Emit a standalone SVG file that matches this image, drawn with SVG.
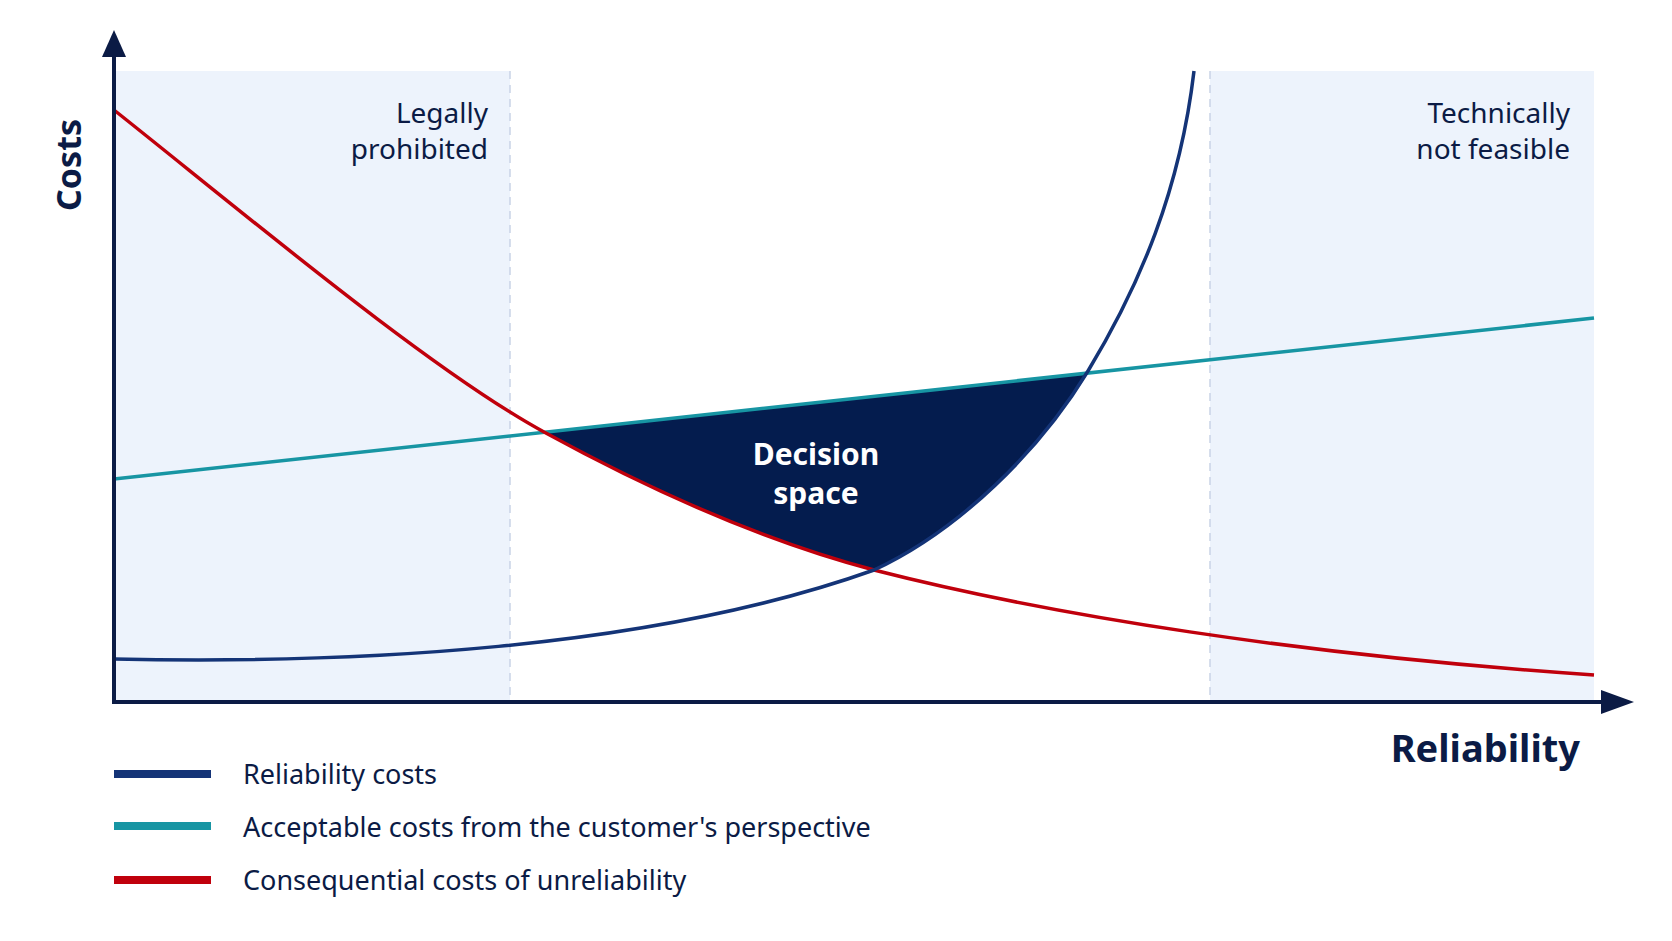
<svg xmlns="http://www.w3.org/2000/svg" width="1672" height="941" viewBox="0 0 1672 941">
<style>
text{font-family:"Noto Sans","Open Sans",sans-serif;fill:#0b1b45}
.lbl{font-size:28px}
.leg{font-size:27px}
.zone{fill:#edf3fc}
.dash{stroke:#c9d3e6;stroke-width:1.5;stroke-dasharray:8 6}
.c{fill:none;stroke-width:3.5}
</style>
<rect width="1672" height="941" fill="#fff"/>
<g id="zones">
<rect class="zone" x="114" y="71" width="396" height="631"/>
<rect class="zone" x="1210" y="71" width="384" height="631"/>
<line class="dash" x1="510" y1="71" x2="510" y2="702"/>
<line class="dash" x1="1210" y1="71" x2="1210" y2="702"/>
</g>
<g id="decision-space">
<path d="M544,432 L1088,373 C1040,450 960,530 874,570 C760,540 650,490 544,432 Z" fill="#041c4e"/>
<text x="816" y="465" text-anchor="middle" font-size="30" font-weight="bold" style="fill:#fff">Decision</text>
<text x="816" y="504" text-anchor="middle" font-size="30" font-weight="bold" style="fill:#fff">space</text>
</g>
<g id="connectors">
<line x1="114" y1="479" x2="1594" y2="318" class="c" stroke="#1795a3"/>
<path class="c" stroke="#c0000c" d="M114,110 C240,210 430,370 544,432 C650,490 760,540 874,570 C1050,615 1300,655 1594,675"/>
<path class="c" stroke="#143477" d="M114,659 C350,664 650,650 874,570 C960,530 1040,450 1088,371 C1140,285 1180,190 1194,71"/>
<line x1="114" y1="702" x2="114" y2="50" stroke="#0b1b45" stroke-width="4"/>
<polygon points="114,30 102,57 126,57" fill="#0b1b45"/>
<line x1="112" y1="702" x2="1605" y2="702" stroke="#0b1b45" stroke-width="4"/>
<polygon points="1634,702 1601,690 1601,714" fill="#0b1b45"/>
</g>
<g id="labels">
<text class="lbl" x="488" y="123" text-anchor="end">Legally</text>
<text class="lbl" x="488" y="159" text-anchor="end">prohibited</text>
<text class="lbl" x="1570" y="123" text-anchor="end">Technically</text>
<text class="lbl" x="1570" y="159" text-anchor="end">not feasible</text>
<text x="0" y="0" font-size="34" font-weight="bold" text-anchor="middle" transform="translate(81,165) rotate(-90)">Costs</text>
<text x="1580" y="762" font-size="38" font-weight="bold" text-anchor="end">Reliability</text>
</g>
<g id="legend">
<line x1="114" y1="774" x2="211" y2="774" stroke="#143477" stroke-width="8"/>
<line x1="114" y1="826" x2="211" y2="826" stroke="#1795a3" stroke-width="8"/>
<line x1="114" y1="880" x2="211" y2="880" stroke="#c0000c" stroke-width="8"/>
<text class="leg" x="243" y="784">Reliability costs</text>
<text class="leg" x="243" y="837">Acceptable costs from the customer's perspective</text>
<text class="leg" x="243" y="890">Consequential costs of unreliability</text>
</g>
</svg>
